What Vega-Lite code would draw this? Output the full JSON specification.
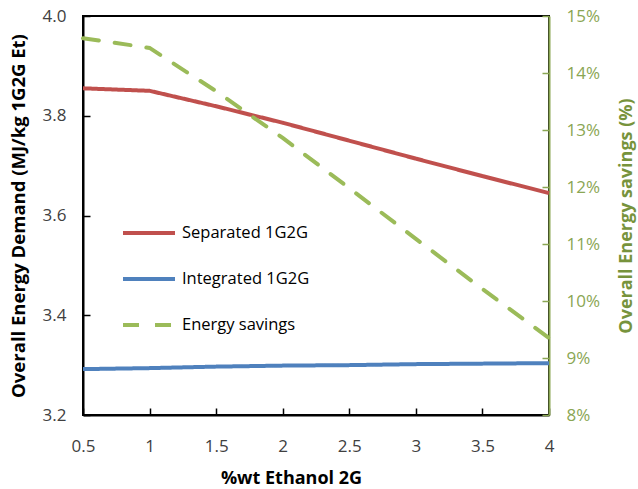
{
  "$schema": "https://vega.github.io/schema/vega-lite/v6.json",
  "autosize": {"type": "none"},
  "width": 466,
  "height": 399,
  "padding": {"left": 83, "top": 16, "right": 89, "bottom": 74},
  "background": "white",
  "config": {
    "font": "Open Sans",
    "view": {"stroke": "black", "strokeWidth": 2},
    "axis": {
      "labelFont": "Open Sans",
      "titleFont": "Open Sans",
      "labelFontSize": 17,
      "titleFontSize": 18,
      "titleFontWeight": "bold",
      "labelColor": "#404040",
      "titleColor": "black",
      "domainColor": "black",
      "domainWidth": 2,
      "tickColor": "black",
      "tickWidth": 1.5,
      "tickSize": -7,
      "grid": false
    }
  },
  "datasets": {
    "energy": [
      {"ethanol2g": 0.5, "series": "Separated 1G2G", "demand": 3.855},
      {"ethanol2g": 1.0, "series": "Separated 1G2G", "demand": 3.850},
      {"ethanol2g": 1.5, "series": "Separated 1G2G", "demand": 3.819},
      {"ethanol2g": 2.0, "series": "Separated 1G2G", "demand": 3.786},
      {"ethanol2g": 2.5, "series": "Separated 1G2G", "demand": 3.750},
      {"ethanol2g": 3.0, "series": "Separated 1G2G", "demand": 3.714},
      {"ethanol2g": 3.5, "series": "Separated 1G2G", "demand": 3.679},
      {"ethanol2g": 4.0, "series": "Separated 1G2G", "demand": 3.645},
      {"ethanol2g": 0.5, "series": "Integrated 1G2G", "demand": 3.292},
      {"ethanol2g": 1.0, "series": "Integrated 1G2G", "demand": 3.294},
      {"ethanol2g": 1.5, "series": "Integrated 1G2G", "demand": 3.297},
      {"ethanol2g": 2.0, "series": "Integrated 1G2G", "demand": 3.299},
      {"ethanol2g": 2.5, "series": "Integrated 1G2G", "demand": 3.300},
      {"ethanol2g": 3.0, "series": "Integrated 1G2G", "demand": 3.302},
      {"ethanol2g": 3.5, "series": "Integrated 1G2G", "demand": 3.303},
      {"ethanol2g": 4.0, "series": "Integrated 1G2G", "demand": 3.304}
    ],
    "savings": [
      {"ethanol2g": 0.5, "series": "Energy savings", "saving": 0.1461},
      {"ethanol2g": 1.0, "series": "Energy savings", "saving": 0.1444},
      {"ethanol2g": 1.5, "series": "Energy savings", "saving": 0.1368},
      {"ethanol2g": 2.0, "series": "Energy savings", "saving": 0.1286},
      {"ethanol2g": 2.5, "series": "Energy savings", "saving": 0.1198},
      {"ethanol2g": 3.0, "series": "Energy savings", "saving": 0.1109},
      {"ethanol2g": 3.5, "series": "Energy savings", "saving": 0.1021},
      {"ethanol2g": 4.0, "series": "Energy savings", "saving": 0.0935}
    ]
  },
  "encoding": {
    "x": {
      "field": "ethanol2g",
      "type": "quantitative",
      "scale": {"domain": [0.5, 4], "nice": false, "zero": false},
      "axis": {
        "title": "%wt Ethanol 2G",
        "values": [0.5, 1, 1.5, 2, 2.5, 3, 3.5, 4],
        "format": "~g",
        "labelPadding": 30,
        "titlePadding": 15,
        "titleFontSize": 18,
        "titleX": 208,
        "labelFlush": false
      }
    },
    "color": {
      "field": "series",
      "type": "nominal",
      "scale": {
        "domain": ["Separated 1G2G", "Integrated 1G2G", "Energy savings"],
        "range": ["#C0504D", "#4F81BD", "#9BBB59"]
      },
      "legend": {
        "title": null,
        "orient": "none",
        "legendX": 38,
        "legendY": 189,
        "symbolType": "stroke",
        "symbolSize": 2700,
        "symbolStrokeWidth": 4,
        "labelFont": "Open Sans",
        "labelFontSize": 16.5,
        "labelColor": "black",
        "labelOffset": 5,
        "rowPadding": 9
      }
    },
    "strokeDash": {
      "field": "series",
      "type": "nominal",
      "scale": {
        "domain": ["Separated 1G2G", "Integrated 1G2G", "Energy savings"],
        "range": [[1, 0], [1, 0], [16, 16]]
      },
      "legend": null
    }
  },
  "layer": [
    {
      "data": {"name": "energy"},
      "mark": {"type": "line", "strokeWidth": 4, "strokeCap": "butt"},
      "encoding": {
        "y": {
          "field": "demand",
          "type": "quantitative",
          "scale": {"domain": [3.2, 4.0], "nice": false, "zero": false},
          "axis": {
            "title": "Overall Energy Demand (MJ/kg 1G2G Et)",
            "values": [3.2, 3.4, 3.6, 3.8, 4.0],
            "format": ".1f",
            "labelPadding": 24,
            "titlePadding": 14,
            "titleFontSize": 18.5,
            "labelFlush": false
          }
        }
      }
    },
    {
      "data": {"name": "savings"},
      "mark": {"type": "line", "strokeWidth": 4, "strokeCap": "round"},
      "encoding": {
        "y": {
          "field": "saving",
          "type": "quantitative",
          "scale": {"domain": [0.08, 0.15], "nice": false, "zero": false},
          "axis": {
            "orient": "right",
            "title": "Overall Energy savings (%)",
            "titleAngle": 270,
            "values": [0.08, 0.09, 0.10, 0.11, 0.12, 0.13, 0.14, 0.15],
            "format": ".0%",
            "labelPadding": 24,
            "titlePadding": 36,
            "labelColor": "#8AA653",
            "titleColor": "#77933C",
            "domainColor": "#8AA653",
            "tickColor": "#8AA653",
            "labelFlush": false
          }
        }
      }
    }
  ],
  "resolve": {"scale": {"y": "independent"}}
}
